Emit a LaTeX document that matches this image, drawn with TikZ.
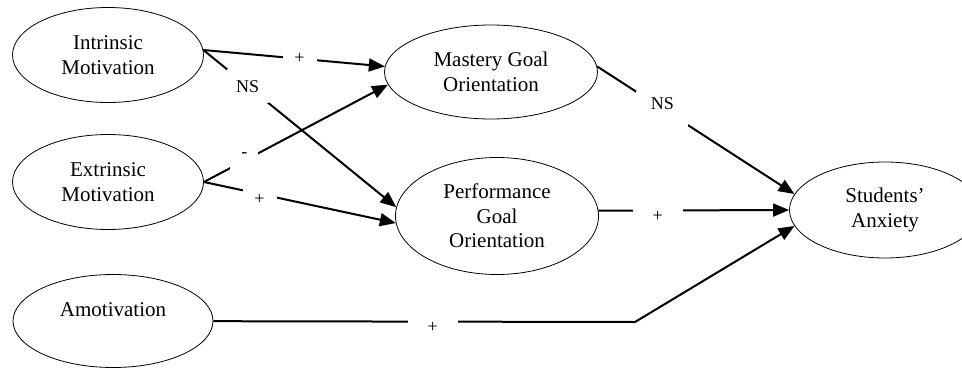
\documentclass[tikz,border=0pt]{standalone}
\usepackage{fontspec}
\setmainfont{Liberation Serif}
\usetikzlibrary{shapes.geometric,arrows.meta}

\begin{document}
\begin{tikzpicture}[x=.5pt,y=-.5pt,>={Triangle[length=8pt,width=6.5pt]},
  latent/.style={ellipse,draw,thin,inner sep=0pt,align=center,font=\fontsize{10.5}{12.2}\selectfont},
  link/.style={->,line width=1pt},
  coef/.style={fill=white,inner sep=2pt,minimum width=17pt,minimum height=13pt,font=\fontsize{9}{10}\selectfont},
  low/.style={text height=11pt,text depth=0pt}]
\useasboundingbox (0,0) rectangle (962,369);
\clip (0,0) rectangle (962,369);

\node[latent,minimum width=95.5pt,minimum height=47.5pt](intr) at (108,55){Intrinsic\\Motivation};
\node[latent,minimum width=95.5pt,minimum height=47.5pt](extr) at (108,182){Extrinsic\\Motivation};
\node[latent,minimum width=100pt,minimum height=46.5pt,text depth=11.5pt](amot) at (113,321){Amotivation};
\node[latent,minimum width=106.5pt,minimum height=47pt](mast) at (491,72){Mastery Goal\\Orientation};
\node[latent,minimum width=101.5pt,minimum height=58.5pt](perf) at (497,216){Performance\\Goal\\Orientation};
\node[latent,minimum width=95.5pt,minimum height=48pt](stud) at (885,210){Students’\\Anxiety};

\draw[link](intr.3)--node[coef,pos=.53]{+}(mast.177);
\draw[link](intr.3)--node[coef,pos=.23,minimum width=21pt,minimum height=17pt]{NS}(perf.175);
\draw[link](extr.east)--node[coef,pos=.22,minimum width=14pt,text depth=6pt]{-}(mast.187);
\draw[link](extr.east)--node[coef,low,pos=.29]{+}(perf.184);
\draw[link](mast.3)--node[coef,pos=.33,minimum width=26pt,minimum height=18pt,text depth=5pt]{NS}(stud.170);
\draw[link](perf.3)--node[coef,low,pos=.31,minimum width=25pt]{+}(stud.west);
\coordinate(bend) at (635,322);
\draw[link](amot)--node[coef,low,pos=.52,minimum width=25pt]{+}(bend)--(stud.190);
\end{tikzpicture}
\end{document}
